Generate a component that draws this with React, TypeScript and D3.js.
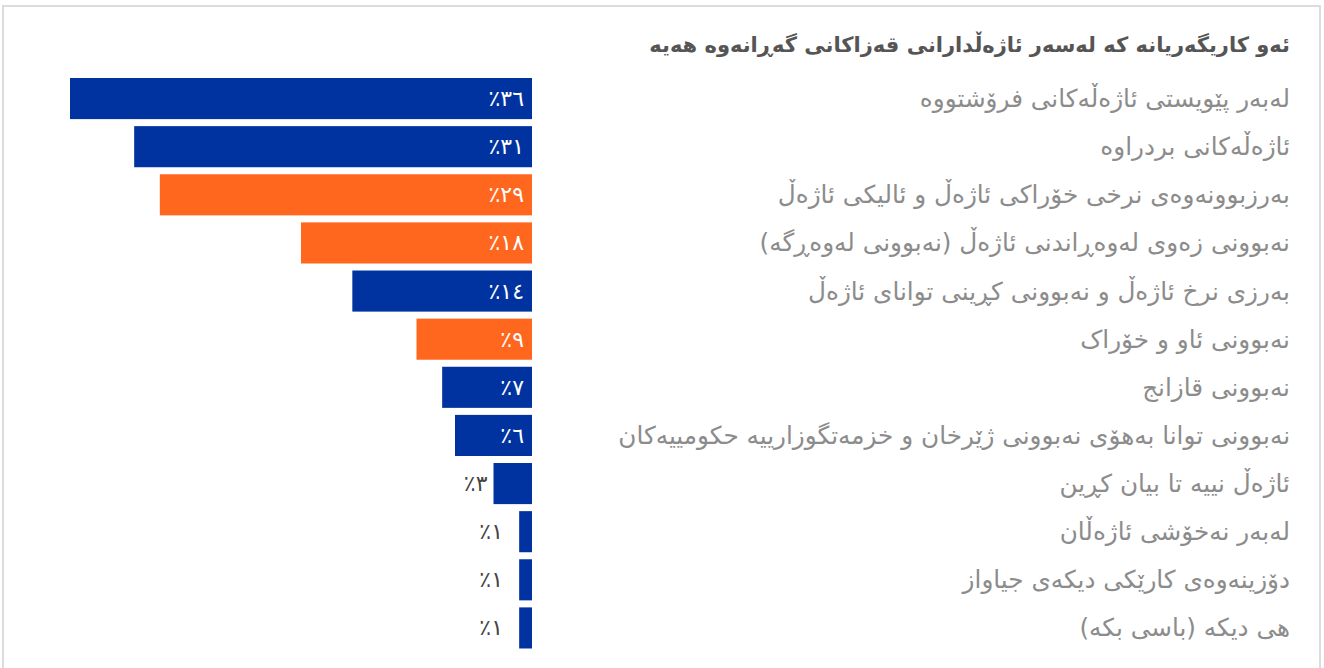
import React from "react";
import * as d3 from "d3";

const title = "ئەو کاریگەریانە کە لەسەر ئاژەڵدارانی قەزاکانی گەڕانەوە هەیە";

const categories = [
  "لەبەر پێویستی ئاژەڵەکانی فرۆشتووە",
  "ئاژەڵەکانی بردراوە",
  "بەرزبوونەوەی نرخی خۆراکی ئاژەڵ و ئالیکی ئاژەڵ",
  "نەبوونی زەوی لەوەڕاندنی ئاژەڵ (نەبوونی لەوەڕگە)",
  "بەرزی نرخ ئاژەڵ و نەبوونی کڕینی توانای ئاژەڵ",
  "نەبوونی ئاو و خۆراک",
  "نەبوونی قازانج",
  "نەبوونی توانا بەهۆی نەبوونی ژێرخان و خزمەتگوزارییە حکومییەکان",
  "ئاژەڵ نییە تا بیان کڕین",
  "لەبەر نەخۆشی ئاژەڵان",
  "دۆزینەوەی کارێکی دیکەی جیاواز",
  "هی دیکە (باسی بکە)",
];

const values = [36, 31, 29, 18, 14, 9, 7, 6, 3, 1, 1, 1];

const highlighted = [false, false, true, true, false, true, false, false, false, false, false, false];

const BLUE = "#0033a0";
const ORANGE = "#ff671f";

const arabicDigits = "٠١٢٣٤٥٦٧٨٩";
const toArabic = (n: number) =>
  String(n)
    .split("")
    .map((c) => arabicDigits[+c] ?? c)
    .join("");

export default function App() {
  const W = 1324;
  const H = 668;
  const barRight = 532;
  const x = d3.scaleLinear().domain([0, 36]).range([0, 462]);
  const y = d3
    .scaleBand<string>()
    .domain(categories)
    .range([74.5, 652])
    .paddingInner(0.146)
    .paddingOuter(0.073);
  const labelRight = 1290;
  const font = "'DejaVu Sans', sans-serif";

  return (
    <svg
      width={W}
      height={H}
      style={{ position: "fixed", left: 0, top: 0, background: "#fff" }}
    >
      <rect x={3} y={6} width={1317} height={700} fill="#fff" stroke="#dcdcdc" strokeWidth={2} />
      <text
        x={labelRight}
        y={45}
        direction="rtl"
        textAnchor="start"
        dominantBaseline="central"
        fontFamily={font}
        fontSize={21}
        fontWeight="bold"
        fill="#555"
      >
        {title}
      </text>
      {categories.map((c, i) => {
        const v = values[i];
        const w = x(v);
        const yy = y(c)!;
        const bh = y.bandwidth();
        const cy = yy + bh / 2;
        const left = barRight - w;
        const inside = w > 60;
        const lx = inside ? barRight - 8 : Math.min(left - 6, barRight - 29);
        return (
          <g key={c}>
            <rect x={left} y={yy} width={w} height={bh} fill={highlighted[i] ? ORANGE : BLUE} />
            <text
              x={lx}
              y={cy}
              direction="ltr"
              textAnchor="end"
              dominantBaseline="central"
              fontFamily={font}
              fontSize={22}
              fill={inside ? "#fff" : "#444"}
            >
              {"٪" + toArabic(v)}
            </text>
            <text
              x={labelRight}
              y={cy}
              direction="rtl"
              textAnchor="start"
              dominantBaseline="central"
              fontFamily={font}
              fontSize={24.7}
              fill="#8c8c8c"
            >
              {c}
            </text>
          </g>
        );
      })}
    </svg>
  );
}
